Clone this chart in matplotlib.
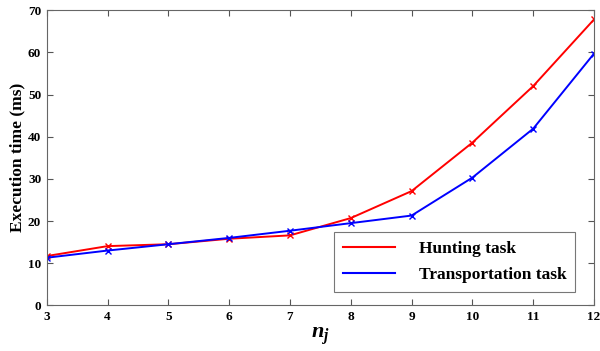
import matplotlib
matplotlib.use("Agg")
import matplotlib.pyplot as plt

n_j = [3, 4, 5, 6, 7, 8, 9, 10, 11, 12]
hunting = [11.7, 14.05, 14.5, 15.8, 16.6, 20.7, 27.1, 38.6, 52.0, 67.8]
transport = [11.3, 13.0, 14.5, 16.0, 17.7, 19.5, 21.3, 30.3, 41.9, 59.7]

plt.rcParams['font.family'] = ['Liberation Serif', 'DejaVu Serif']
plt.rcParams['font.weight'] = 'bold'
plt.rcParams['mathtext.fontset'] = 'custom'
plt.rcParams['mathtext.it'] = 'Liberation Serif:italic:bold'
plt.rcParams['mathtext.rm'] = 'Liberation Serif:bold'

fig = plt.figure(figsize=(6, 3.51), dpi=100)
ax = fig.add_axes([0.078, 0.13, 0.912, 0.841])

ax.plot(n_j, hunting, color='red', marker='x', markersize=5, linewidth=1.4, label='Hunting task')
ax.plot(n_j, transport, color='blue', marker='x', markersize=5, linewidth=1.4, label='Transportation task')

ax.set_xlim(3, 12)
ax.set_ylim(0, 70)
ax.set_xticks(n_j)
ax.set_yticks(range(0, 71, 10))
ax.tick_params(direction='in', top=True, right=True, labelsize=9.5, length=4, color='#555555', pad=4)
for lbl in ax.get_xticklabels() + ax.get_yticklabels():
    lbl.set_fontweight('bold')
for s in ax.spines.values():
    s.set_color('#666666')

ax.set_ylabel('Execution time (ms)', fontsize=12.5, fontweight='bold', labelpad=2)
ax.set_xlabel(r'$n_j$', fontsize=16, labelpad=2)

leg = ax.legend(loc='lower right', bbox_to_anchor=(0.966, 0.045), fontsize=12.5, frameon=True,
                fancybox=False, edgecolor='#555555', handlelength=3.0, handletextpad=1.4,
                borderpad=0.5, labelspacing=0.6, borderaxespad=0)
leg.get_frame().set_linewidth(0.8)
for t in leg.get_texts():
    t.set_fontweight('bold')
for h in leg.legend_handles:
    h.set_marker('')
    h.set_linewidth(1.5)

fig.savefig('out.png', dpi=100)
